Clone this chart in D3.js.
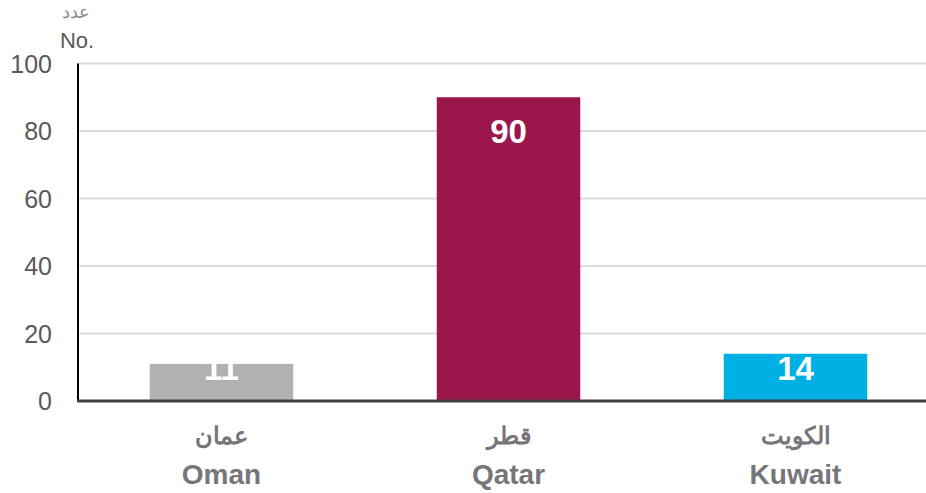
<!DOCTYPE html>
<html><head><meta charset="utf-8">
<script src="https://cdn.jsdelivr.net/npm/d3@7"></script>
<style>body{margin:0;background:#fff}svg{display:block}</style>
</head><body>
<svg id="c" width="926" height="493"></svg>
<script>
const categoriesAr = ["عمان", "قطر", "الكويت"];
const categoriesEn = ["Oman", "Qatar", "Kuwait"];
const values = [11, 90, 14];
const colors = ["#b1b1b3", "#9b164b", "#00b0e4"];
const yTicks = [0, 20, 40, 60, 80, 100];
const axisTitleAr = "عدد";
const axisTitleEn = "No.";

const svg = d3.select("#c");
const font = "Liberation Sans, Arial, sans-serif";
const x = d3.scaleBand().domain(categoriesEn).range([78, 939]).paddingInner(0.5).paddingOuter(0.25);
const y = d3.scaleLinear().domain([0, 100]).range([401, 63.5]);

// gridlines
svg.append("g").selectAll("line").data(yTicks.filter(d => d > 0)).join("line")
  .attr("x1", 78).attr("x2", 926)
  .attr("y1", d => y(d)).attr("y2", d => y(d))
  .attr("stroke", "#dadada").attr("stroke-width", 2);

// y axis
const yAxis = d3.axisLeft(y).tickValues(yTicks).tickSize(0).tickPadding(26);
const gy = svg.append("g").attr("transform", "translate(78,0)").call(yAxis);
gy.select(".domain").remove();
gy.selectAll("text").attr("font-family", font).attr("font-size", 25).attr("fill", "#595959").attr("dy", "0.35em");

// bars
svg.append("g").selectAll("rect").data(values).join("rect")
  .attr("x", (d, i) => x(categoriesEn[i]))
  .attr("width", x.bandwidth())
  .attr("y", d => y(d))
  .attr("height", d => y(0) - y(d))
  .attr("fill", (d, i) => colors[i]);

// axis lines
svg.append("line").attr("x1", 78).attr("x2", 78).attr("y1", y(100)).attr("y2", y(0) + 1)
  .attr("stroke", "#000").attr("stroke-width", 2);
svg.append("line").attr("x1", 77).attr("x2", 926).attr("y1", y(0)).attr("y2", y(0))
  .attr("stroke", "#404040").attr("stroke-width", 3);

// value labels
svg.append("g").selectAll("text").data(values).join("text")
  .attr("x", (d, i) => x(categoriesEn[i]) + x.bandwidth() / 2)
  .attr("y", d => Math.min(y(d) + 46, y(0) - 21))
  .attr("text-anchor", "middle")
  .attr("font-family", font).attr("font-weight", "bold").attr("font-size", 33)
  .attr("fill", "#fff").text(d => d);

// category labels
svg.append("g").selectAll("text").data(categoriesAr).join("text")
  .attr("x", (d, i) => x(categoriesEn[i]) + x.bandwidth() / 2)
  .attr("y", 444).attr("text-anchor", "middle")
  .attr("font-family", font).attr("font-weight", "bold").attr("font-size", 24)
  .attr("fill", "#76767a").text(d => d);
svg.append("g").selectAll("text").data(categoriesEn).join("text")
  .attr("x", (d, i) => x(d) + x.bandwidth() / 2)
  .attr("y", 484).attr("text-anchor", "middle")
  .attr("font-family", font).attr("font-weight", "bold").attr("font-size", 28)
  .attr("fill", "#76767a").text(d => d);

// axis title
svg.append("text").attr("x", 76).attr("y", 18).attr("text-anchor", "middle")
  .attr("font-family", font).attr("font-size", 18).attr("fill", "#8a8a8e").text(axisTitleAr);
svg.append("text").attr("x", 77).attr("y", 48).attr("text-anchor", "middle")
  .attr("font-family", font).attr("font-size", 22).attr("fill", "#595959").text(axisTitleEn);
</script>
</body></html>
